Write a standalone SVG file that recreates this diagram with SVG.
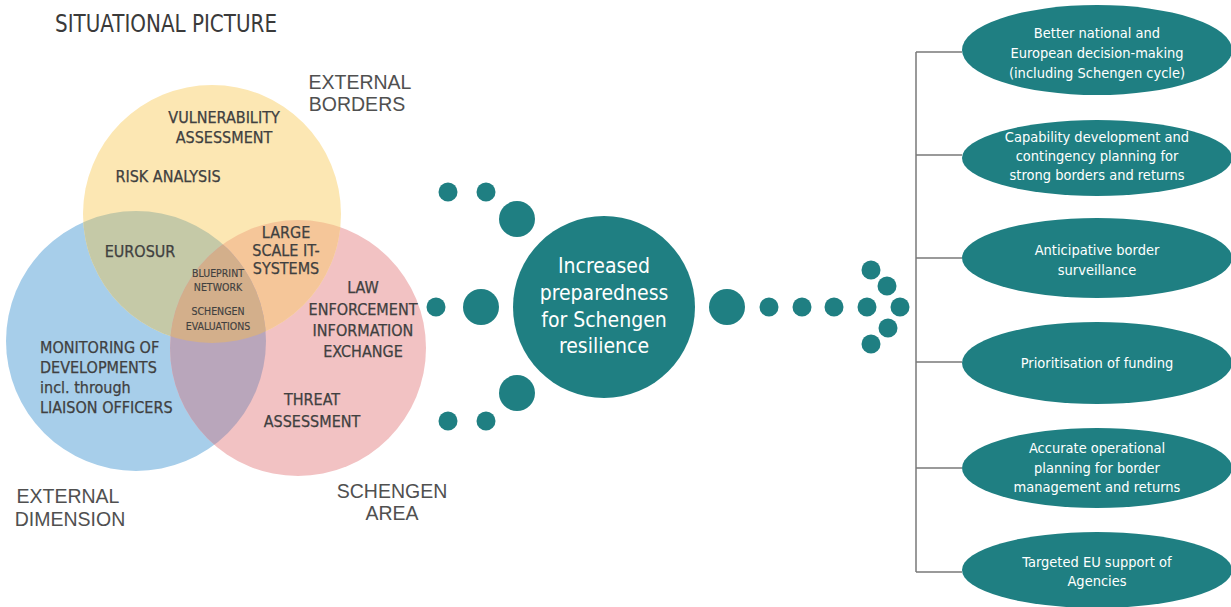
<svg xmlns="http://www.w3.org/2000/svg" width="1231" height="607" viewBox="0 0 1231 607">
<style>
.venn{font-family:"Liberation Sans Narrow","DejaVu Sans Condensed","Liberation Sans",sans-serif;font-size:16px;fill:#404040;stroke:#404040;stroke-width:0.25;text-anchor:middle}
.vsmall{font-size:10.5px;stroke-width:0.15}
.outer{font-family:"Liberation Sans",Arial,sans-serif;font-size:19.5px;fill:#505050;text-anchor:middle}
.title{font-family:"Liberation Sans Narrow","DejaVu Sans Condensed","Liberation Sans",sans-serif;font-size:25px;fill:#3a3a3a}
.dot{fill:#1f7f82}
.wt{font-family:"Liberation Sans Narrow","DejaVu Sans Condensed","Liberation Sans",sans-serif;fill:#ffffff;text-anchor:middle}
.ell{fill:#1f7f82}
.conn{stroke:#7a7a7a;stroke-width:1.5;fill:none}
</style>
<defs>
<clipPath id="cY"><circle cx="212" cy="214" r="129"/></clipPath>
<clipPath id="cB"><circle cx="136" cy="341" r="130"/></clipPath>
</defs>
<rect width="1231" height="607" fill="#ffffff"/>
<text class="title" x="55" y="32" textLength="222" lengthAdjust="spacingAndGlyphs">SITUATIONAL PICTURE</text>

<g id="venn">
<circle cx="136" cy="341" r="130" fill="#a7ceea"/>
<circle cx="298" cy="348" r="128" fill="#f2c2c3"/>
<circle cx="212" cy="214" r="129" fill="#fce7b3"/>
<circle cx="136" cy="341" r="130" fill="#c5c9a7" clip-path="url(#cY)"/>
<circle cx="298" cy="348" r="128" fill="#f5c699" clip-path="url(#cY)"/>
<circle cx="298" cy="348" r="128" fill="#b9a6bb" clip-path="url(#cB)"/>
<g clip-path="url(#cY)"><circle cx="298" cy="348" r="128" fill="#d3af8b" clip-path="url(#cB)"/></g>
</g>

<g id="venn-labels">
<text class="venn" x="224" y="123">VULNERABILITY</text>
<text class="venn" x="224" y="143">ASSESSMENT</text>
<text class="venn" x="168" y="182">RISK ANALYSIS</text>
<text class="venn" x="140" y="257">EUROSUR</text>
<text class="venn" x="286" y="238">LARGE</text>
<text class="venn" x="286" y="256">SCALE IT-</text>
<text class="venn" x="286" y="274">SYSTEMS</text>
<text class="venn vsmall" x="218" y="277">BLUEPRINT</text>
<text class="venn vsmall" x="218" y="291">NETWORK</text>
<text class="venn vsmall" x="218" y="315">SCHENGEN</text>
<text class="venn vsmall" x="218" y="330">EVALUATIONS</text>
<text class="venn" x="363" y="293">LAW</text>
<text class="venn" x="363" y="315">ENFORCEMENT</text>
<text class="venn" x="363" y="336">INFORMATION</text>
<text class="venn" x="363" y="357">EXCHANGE</text>
<text class="venn" x="40" y="353" style="text-anchor:start">MONITORING OF</text>
<text class="venn" x="40" y="373" style="text-anchor:start">DEVELOPMENTS</text>
<text class="venn" x="40" y="393" style="text-anchor:start">incl. through</text>
<text class="venn" x="40" y="413" style="text-anchor:start">LIAISON OFFICERS</text>
<text class="venn" x="312" y="405">THREAT</text>
<text class="venn" x="312" y="427">ASSESSMENT</text>
</g>

<g id="outer-labels">
<text class="outer" x="360" y="89">EXTERNAL</text>
<text class="outer" x="357" y="111">BORDERS</text>
<text class="outer" x="68" y="503">EXTERNAL</text>
<text class="outer" x="70" y="526">DIMENSION</text>
<text class="outer" x="392" y="498">SCHENGEN</text>
<text class="outer" x="392" y="520">AREA</text>
</g>

<g id="connectors">
<circle class="dot" cx="448" cy="192" r="9.5"/>
<circle class="dot" cx="486" cy="192" r="9.5"/>
<circle class="dot" cx="517" cy="219" r="18"/>
<circle class="dot" cx="436" cy="307" r="9.5"/>
<circle class="dot" cx="481" cy="307" r="18"/>
<circle class="dot" cx="517" cy="393" r="18"/>
<circle class="dot" cx="448" cy="421" r="9.5"/>
<circle class="dot" cx="486" cy="421" r="9.5"/>
<circle class="dot" cx="727" cy="307" r="18"/>
<circle class="dot" cx="769" cy="307" r="9.5"/>
<circle class="dot" cx="802" cy="307" r="9.5"/>
<circle class="dot" cx="834" cy="307" r="9.5"/>
<circle class="dot" cx="867" cy="307" r="9.5"/>
<circle class="dot" cx="900" cy="307" r="9.5"/>
<circle class="dot" cx="871" cy="270" r="9.5"/>
<circle class="dot" cx="887" cy="286" r="9.5"/>
<circle class="dot" cx="888" cy="328" r="9.5"/>
<circle class="dot" cx="871" cy="344" r="9.5"/>
<path class="conn" d="M916 52 V572 M916 52 H962 M916 155 H962 M916 258 H962 M916 362 H962 M916 468 H962 M916 572 H962"/>
</g>

<g id="center">
<circle cx="604" cy="307" r="91" fill="#1f7f82"/>
<text class="wt" x="604" y="273" font-size="21">Increased</text>
<text class="wt" x="604" y="300" font-size="21">preparedness</text>
<text class="wt" x="604" y="327" font-size="21">for Schengen</text>
<text class="wt" x="604" y="353" font-size="21">resilience</text>
</g>

<g id="o1"><ellipse class="ell" cx="1097" cy="50" rx="135" ry="45"/>
<text class="wt" x="1097" y="38" font-size="14.5">Better national and</text>
<text class="wt" x="1097" y="58" font-size="14.5">European decision-making</text>
<text class="wt" x="1097" y="78" font-size="14.5">(including Schengen cycle)</text></g>
<g id="o2"><ellipse class="ell" cx="1097" cy="158" rx="135" ry="38"/>
<text class="wt" x="1097" y="142" font-size="14.5">Capability development and</text>
<text class="wt" x="1097" y="161" font-size="14.5">contingency planning for</text>
<text class="wt" x="1097" y="180" font-size="14.5">strong borders and returns</text></g>
<g id="o3"><ellipse class="ell" cx="1097" cy="258" rx="135" ry="40"/>
<text class="wt" x="1097" y="255" font-size="14.5">Anticipative border</text>
<text class="wt" x="1097" y="275" font-size="14.5">surveillance</text></g>
<g id="o4"><ellipse class="ell" cx="1097" cy="363" rx="135" ry="41"/>
<text class="wt" x="1097" y="368" font-size="14.5">Prioritisation of funding</text></g>
<g id="o5"><ellipse class="ell" cx="1097" cy="468" rx="135" ry="40"/>
<text class="wt" x="1097" y="453" font-size="14.5">Accurate operational</text>
<text class="wt" x="1097" y="473" font-size="14.5">planning for border</text>
<text class="wt" x="1097" y="492" font-size="14.5">management and returns</text></g>
<g id="o6"><ellipse class="ell" cx="1097" cy="570" rx="135" ry="38"/>
<text class="wt" x="1097" y="567" font-size="14.5">Targeted EU support of</text>
<text class="wt" x="1097" y="586" font-size="14.5">Agencies</text></g>
</svg>
